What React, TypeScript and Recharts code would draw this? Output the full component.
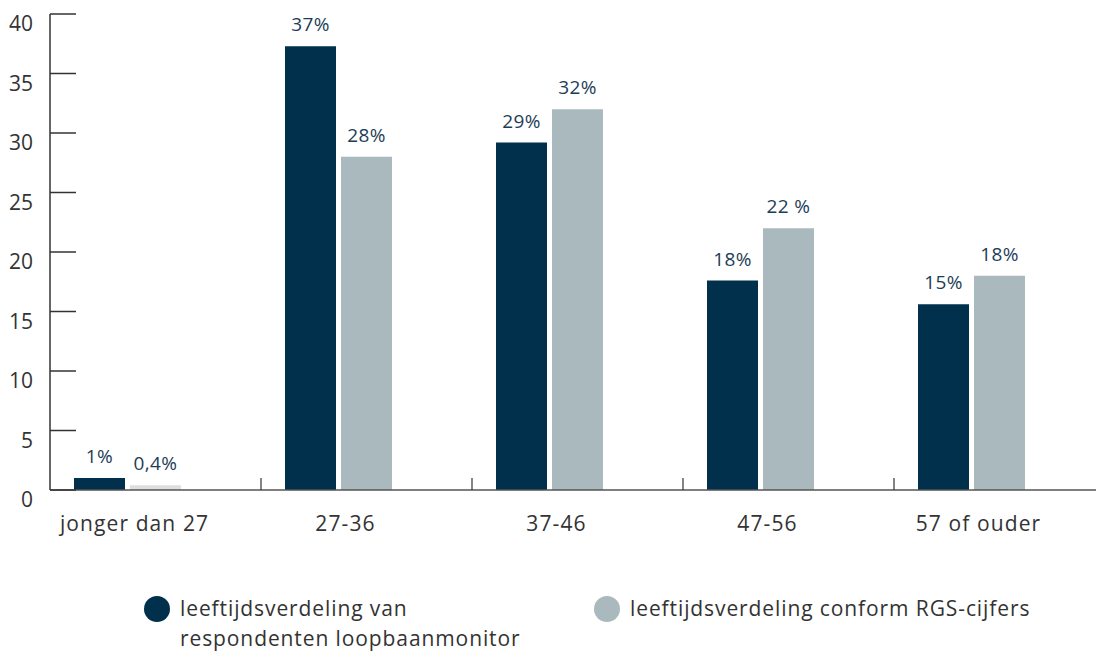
import { BarChart, Bar, XAxis, YAxis, Legend, LabelList, Cell } from "recharts";

// leeftijdscategorieën
const categories = ["jonger dan 27", "27-36", "37-46", "47-56", "57 of ouder"];
const respondenten = [1, 37.3, 29.2, 17.6, 15.6];
const rgs = [0.4, 28, 32, 22, 18];
const respondentenLabels = ["1%", "37%", "29%", "18%", "15%"];
const rgsLabels = ["0,4%", "28%", "32%", "22 %", "18%"];
const yTicks = [0, 5, 10, 15, 20, 25, 30, 35, 40];

const seriesNames = [
  "leeftijdsverdeling van respondenten loopbaanmonitor",
  "leeftijdsverdeling conform RGS-cijfers",
];

const DARK = "#00304b";
const LIGHT = "#a9b9bd";
const FIRST_LIGHT = "#dedede";
const FONT = "'Open Sans', 'Noto Sans', sans-serif";

const data = categories.map((name, i) => ({
  name,
  respondenten: respondenten[i],
  rgs: rgs[i],
  respondentenLabel: respondentenLabels[i],
  rgsLabel: rgsLabels[i],
}));

const CHART_W = 1110;
const PLOT_LEFT = 50;
const PLOT_RIGHT = 5;
const BAND = (CHART_W - PLOT_LEFT - PLOT_RIGHT) / categories.length;

function YTick(props: any) {
  const { x, y, payload } = props;
  return (
    <g>
      <line x1={x} x2={x + 26} y1={y} y2={y} stroke="#333" strokeWidth={1.5} />
      <text x={x - 17} y={y + 17} textAnchor="end" fill="#333" fontSize={21} fontFamily={FONT}>
        {payload.value}
      </text>
    </g>
  );
}

function XTick(props: any) {
  const { x, y, payload } = props;
  return (
    <g>
      <line x1={x + BAND / 2} x2={x + BAND / 2} y1={y - 12} y2={y} stroke="#333" strokeWidth={1.2} />
      <text x={x - 21} y={y + 41} textAnchor="middle" fill="#333" fontSize={21} letterSpacing={1.1} fontFamily={FONT}>
        {payload.value}
      </text>
    </g>
  );
}

function LegendBox() {
  const colors = [DARK, LIGHT];
  return (
    <div style={{ position: "relative", height: 107, fontFamily: FONT, fontSize: 21, letterSpacing: 0.9, color: "#333" }}>
      {seriesNames.map((n, i) => (
        <div
          key={n}
          style={{
            position: "absolute",
            left: i === 0 ? 144 : 594,
            top: 46,
            display: "flex",
            alignItems: "flex-start",
            width: i === 0 ? 420 : 500,
          }}
        >
          <span
            style={{
              width: 26,
              height: 26,
              borderRadius: 13,
              background: colors[i],
              flex: "0 0 26px",
              marginRight: 10,
            }}
          />
          <span style={{ lineHeight: "30px", marginTop: -3, whiteSpace: "nowrap" }}>
            {i === 0 ? (
              <>
                leeftijdsverdeling van
                <br />
                respondenten loopbaanmonitor
              </>
            ) : (
              n
            )}
          </span>
        </div>
      ))}
    </div>
  );
}

export default function App() {
  return (
    <div style={{ position: "absolute", left: 0, top: 0, width: 1096, height: 657, overflow: "hidden", background: "#fff" }}>
      <BarChart
        width={CHART_W}
        height={657}
        data={data}
        margin={{ top: 14, right: PLOT_RIGHT, bottom: 0, left: 0 }}
        barSize={51}
        barGap={5}
      >
        <XAxis
          dataKey="name"
          height={60}
          tickSize={0}
          tickMargin={0}
          tick={<XTick />}
          axisLine={{ stroke: "#555", strokeWidth: 1.5 }}
          tickLine={false}
          interval={0}
        />
        <YAxis
          width={PLOT_LEFT}
          domain={[0, 40]}
          ticks={yTicks}
          tickSize={0}
          tickMargin={0}
          tick={<YTick />}
          axisLine={{ stroke: "#333", strokeWidth: 1.5 }}
          tickLine={false}
          interval={0}
        />
        <Legend verticalAlign="bottom" content={() => <LegendBox />} />
        <Bar dataKey="respondenten" name={seriesNames[0]} fill={DARK} isAnimationActive={false}>
          <LabelList dataKey="respondentenLabel" position="top" offset={15} fill="#1d3d57" fontSize={19} letterSpacing={0.4} fontFamily={FONT} />
        </Bar>
        <Bar dataKey="rgs" name={seriesNames[1]} fill={LIGHT} isAnimationActive={false}>
          {data.map((d, i) => (
            <Cell key={d.name} fill={i === 0 ? FIRST_LIGHT : LIGHT} />
          ))}
          <LabelList dataKey="rgsLabel" position="top" offset={15} fill="#1d3d57" fontSize={19} letterSpacing={0.4} fontFamily={FONT} />
        </Bar>
        {/* lege plek rechts van elke groep, zoals in het origineel */}
        <Bar dataKey="ruimte" fill="none" legendType="none" isAnimationActive={false} />
      </BarChart>
    </div>
  );
}
